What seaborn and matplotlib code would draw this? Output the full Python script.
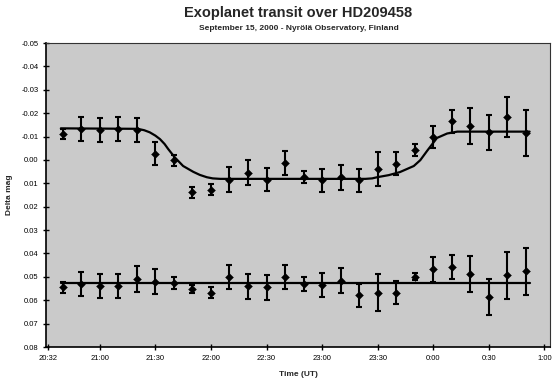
import numpy as np
import pandas as pd
import seaborn as sns
import matplotlib
matplotlib.use("Agg")
import matplotlib.pyplot as plt

# observation times, minutes after 20:00 UT
obs_min = [40, 50, 60, 70, 80, 90, 100, 110, 120, 130, 140, 150, 160,
           170, 180, 190, 200, 210, 220, 230, 240, 250, 260, 270, 280, 290]

# HD209458 (upper series)
star_mag = [-0.0111, -0.0133, -0.0128, -0.0133, -0.0128, -0.0027, 0.0002, 0.0139,
            0.0127, 0.0084, 0.0055, 0.0084, 0.0012, 0.0074, 0.0087, 0.0074,
            0.0087, 0.0040, 0.0016, -0.0042, -0.0096, -0.0165, -0.0147, -0.0118,
            -0.0183, -0.0115]
star_err = [0.0022, 0.0052, 0.0051, 0.0052, 0.0053, 0.0049, 0.0025, 0.0025,
            0.0025, 0.0052, 0.0053, 0.0051, 0.0051, 0.0025, 0.0050, 0.0053,
            0.0050, 0.0073, 0.0048, 0.0024, 0.0047, 0.0048, 0.0077, 0.0076,
            0.0085, 0.0099]

# check star (lower series)
check_mag = [0.0545, 0.0531, 0.0538, 0.0538, 0.0509, 0.0520, 0.0526, 0.0552,
             0.0567, 0.0502, 0.0541, 0.0545, 0.0502, 0.0531, 0.0535, 0.0516,
             0.0578, 0.0567, 0.0567, 0.0499, 0.0468, 0.0458, 0.0487, 0.0588,
             0.0494, 0.0477]
check_err = [0.0024, 0.0052, 0.0052, 0.0051, 0.0054, 0.0055, 0.0027, 0.0019,
             0.0025, 0.0051, 0.0053, 0.0052, 0.0052, 0.0029, 0.0052, 0.0054,
             0.0049, 0.0078, 0.0049, 0.0015, 0.0054, 0.0052, 0.0078, 0.0077,
             0.0101, 0.0102]

# transit model curve
model_min = [39, 80.5, 84, 87, 90, 92.5, 95, 97, 100.6, 105, 110.5, 114, 117.8,
             121, 125, 203.4, 207, 209.7, 216, 222, 229.5, 233, 236.7, 242,
             247.5, 253, 292]
model_mag = [-0.0135, -0.0133, -0.0127, -0.0118, -0.0104, -0.0089, -0.0068,
             -0.0046, -0.0010, 0.0026, 0.0051, 0.0064, 0.0074, 0.0079, 0.0081,
             0.0081, 0.0079, 0.0074, 0.0065, 0.0052, 0.0026, 0.0001, -0.0039,
             -0.0094, -0.0113, -0.0121, -0.0121]

check_line_min = [39, 292]
check_line_mag = [0.0525, 0.0525]

tick_min = [32, 60, 90, 120, 150, 180, 210, 240, 270, 300]
tick_lab = ["20:32", "21:00", "21:30", "22:00", "22:30", "23:00", "23:30",
            "0:00", "0:30", "1:00"]

obs = pd.DataFrame({"t": obs_min, "star": star_mag, "star_err": star_err,
                    "check": check_mag, "check_err": check_err})

sns.set_theme(style="white")
plt.rcParams["font.family"] = ["Liberation Sans", "DejaVu Sans"]

fig = plt.figure(figsize=(5.6, 3.79), dpi=100)
ax = fig.add_axes([46 / 560, 1 - 347 / 379, 504 / 560, (347 - 43) / 379])
ax.set_facecolor("#cacaca")

sns.lineplot(x=model_min, y=model_mag, ax=ax, color="black", lw=1.6)
sns.lineplot(x=check_line_min, y=check_line_mag, ax=ax, color="black", lw=1.6)

for col in ["star", "check"]:
    ax.errorbar(obs["t"], obs[col], yerr=obs[col + "_err"], fmt="none",
                ecolor="black", elinewidth=1.5, capsize=2.5, capthick=1.5)
    sns.scatterplot(data=obs, x="t", y=col, ax=ax, marker="D", s=16,
                    color="black", edgecolor="black", zorder=5)

ax.set_xlim(31, 303)
ax.set_ylim(0.08, -0.05)
ax.set_xticks(tick_min)
ax.set_xticklabels(tick_lab)
ax.set_yticks(np.arange(-0.05, 0.081, 0.01))
ax.yaxis.set_major_formatter(plt.FormatStrFormatter("%.2f"))
ax.tick_params(axis="both", direction="inout", length=5, width=1,
               labelsize=5.5, colors="black", pad=3, left=True, bottom=True)

for side in ["left", "bottom"]:
    ax.spines[side].set_color("black")
    ax.spines[side].set_linewidth(1.2)
for side in ["top", "right"]:
    ax.spines[side].set_color("#333333")
    ax.spines[side].set_linewidth(0.8)

ax.set_xlabel("Time (UT)", fontsize=6, fontweight="bold", labelpad=7)
ax.set_ylabel("Delta mag", fontsize=6, fontweight="bold", labelpad=6)

fig.text(0.533, 0.965, "Exoplanet transit over HD209458", ha="center",
         va="center", fontsize=10.5, fontweight="bold")
fig.text(0.533, 0.925, "September 15, 2000 - Nyrölä Observatory, Finland",
         ha="center", va="center", fontsize=6, fontweight="bold")

fig.savefig("out.png", dpi=100)
